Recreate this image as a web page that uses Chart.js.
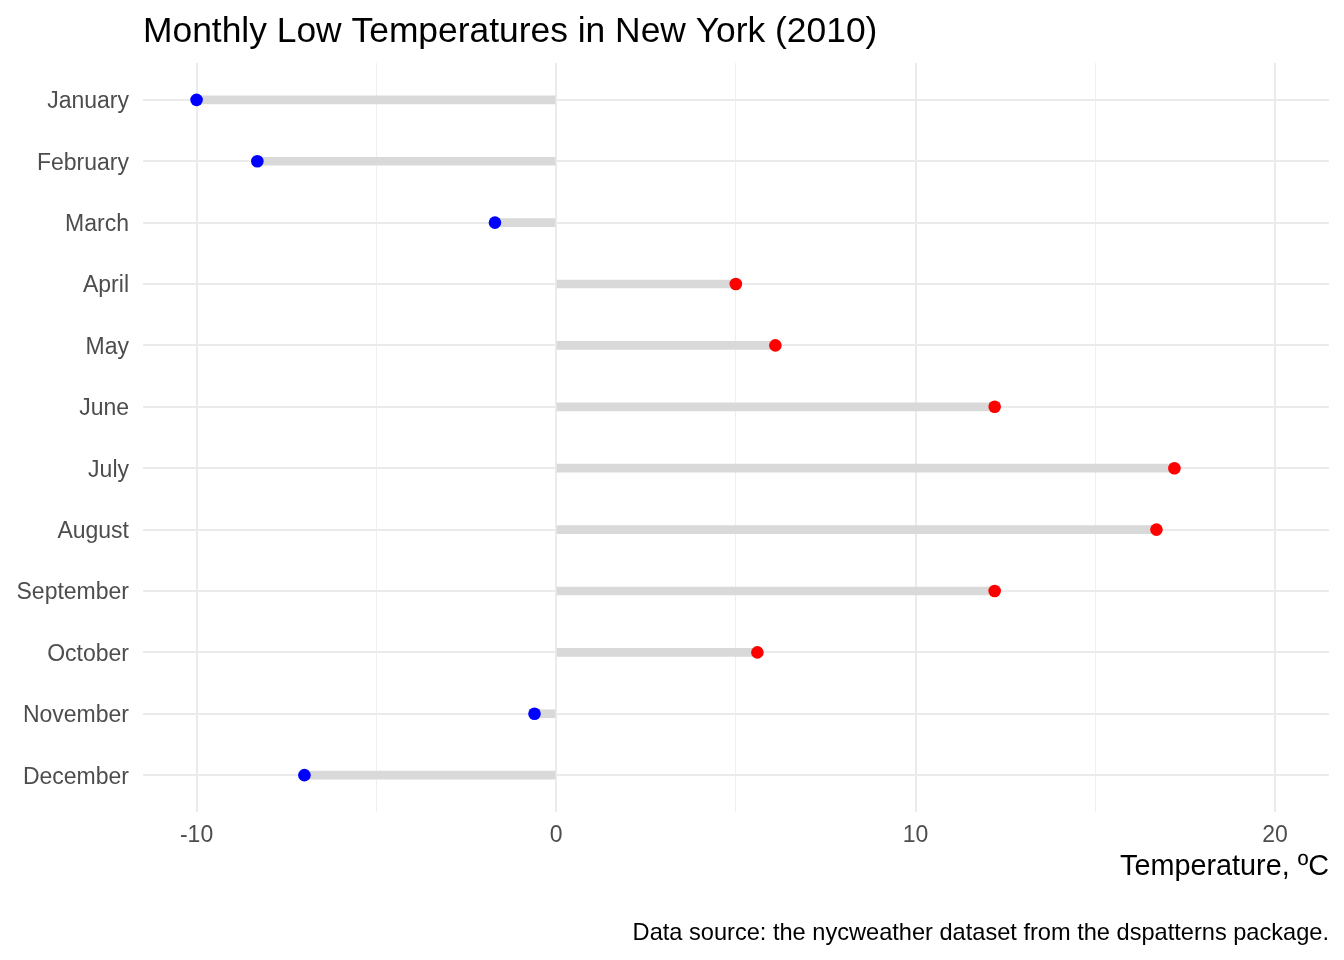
<!DOCTYPE html>
<html>
<head>
<meta charset="utf-8">
<script src="https://cdn.jsdelivr.net/npm/chart.js@4/dist/chart.umd.min.js"></script>
<style>
  html, body { margin: 0; padding: 0; background: #ffffff; }
  #wrap { width: 1344px; height: 960px; }
</style>
</head>
<body>
<div id="wrap"><canvas id="c" width="1344" height="960"></canvas></div>
<script>
const months = ["January","February","March","April","May","June","July","August","September","October","November","December"];
const lowTemps = [-10.0, -8.31, -1.70, 5.0, 6.1, 12.2, 17.2, 16.7, 12.2, 5.6, -0.6, -7.0];
const titleText = "Monthly Low Temperatures in New York (2010)";
const xAxisTitle = "Temperature, \u00BAC";
const captionText = "Data source: the nycweather dataset from the dspatterns package.";

const FONT = "'Liberation Sans', Arial, Helvetica, sans-serif";

const barData = months.map((m, i) => ({ y: i + 1, x: [0, lowTemps[i]] }));
const pointData = months.map((m, i) => ({ y: i + 1, x: lowTemps[i] }));
const pointColors = lowTemps.map(v => v < 0 ? '#0000ff' : '#ff0000');

const textPlugin = {
  id: 'textPlugin',
  afterDraw(chart) {
    const ctx = chart.ctx;
    const a = chart.chartArea;
    ctx.save();
    ctx.fillStyle = '#000000';
    ctx.textBaseline = 'alphabetic';
    ctx.textAlign = 'left';
    ctx.font = '35.4px ' + FONT;
    ctx.fillText(titleText, a.left, 42);
    ctx.textAlign = 'right';
    ctx.font = '23.6px ' + FONT;
    ctx.fillText(captionText, a.right, 940);
    ctx.restore();
  }
};

new Chart(document.getElementById('c'), {
  type: 'bar',
  data: {
    datasets: [
      {
        type: 'scatter',
        data: pointData,
        pointRadius: 6.3,
        pointHoverRadius: 6.3,
        pointBackgroundColor: pointColors,
        pointBorderWidth: 0,
        borderWidth: 0,
        showLine: false,
        order: 0
      },
      {
        type: 'bar',
        data: barData,
        backgroundColor: '#d9d9d9',
        borderWidth: 0,
        barThickness: 8,
        order: 1
      }
    ]
  },
  options: {
    indexAxis: 'y',
    responsive: false,
    animation: false,
    events: [],
    layout: { padding: { top: 63, right: 15, bottom: 75, left: 0 } },
    plugins: {
      legend: { display: false },
      tooltip: { enabled: false },
      title: { display: false }
    },
    scales: {
      x: {
        type: 'linear',
        position: 'bottom',
        min: -11.49,
        max: 21.5,
        offset: false,
        border: { display: false },
        grid: {
          offset: false,
          drawTicks: false,
          color: ctx => (Math.round(ctx.tick.value) % 10 === 0) ? '#ebebeb' : '#efefef',
          lineWidth: ctx => (Math.round(ctx.tick.value) % 10 === 0) ? 2 : 1
        },
        ticks: {
          stepSize: 5,
          includeBounds: false,
          autoSkip: false,
          maxRotation: 0,
          padding: 10,
          color: '#4d4d4d',
          font: { family: FONT, size: 23 },
          callback: v => (Math.round(v) % 10 === 0) ? String(Math.round(v)) : ''
        },
        title: {
          display: true,
          text: xAxisTitle,
          align: 'end',
          color: '#000000',
          font: { family: FONT, size: 28.8 },
          padding: { top: 0, bottom: 1 }
        },
        afterFit: s => { s.height = 73; }
      },
      y: {
        type: 'linear',
        position: 'left',
        min: 0.4,
        max: 12.6,
        reverse: true,
        offset: false,
        border: { display: false },
        grid: {
          offset: false,
          drawTicks: false,
          color: '#ebebeb',
          lineWidth: 2
        },
        ticks: {
          stepSize: 1,
          includeBounds: false,
          autoSkip: false,
          padding: 14,
          labelOffset: 2,
          color: '#4d4d4d',
          font: { family: FONT, size: 23 },
          callback: v => months[Math.round(v) - 1] || ''
        },
        afterFit: s => { s.width = 143; }
      }
    }
  },
  plugins: [textPlugin]
});
</script>
</body>
</html>
